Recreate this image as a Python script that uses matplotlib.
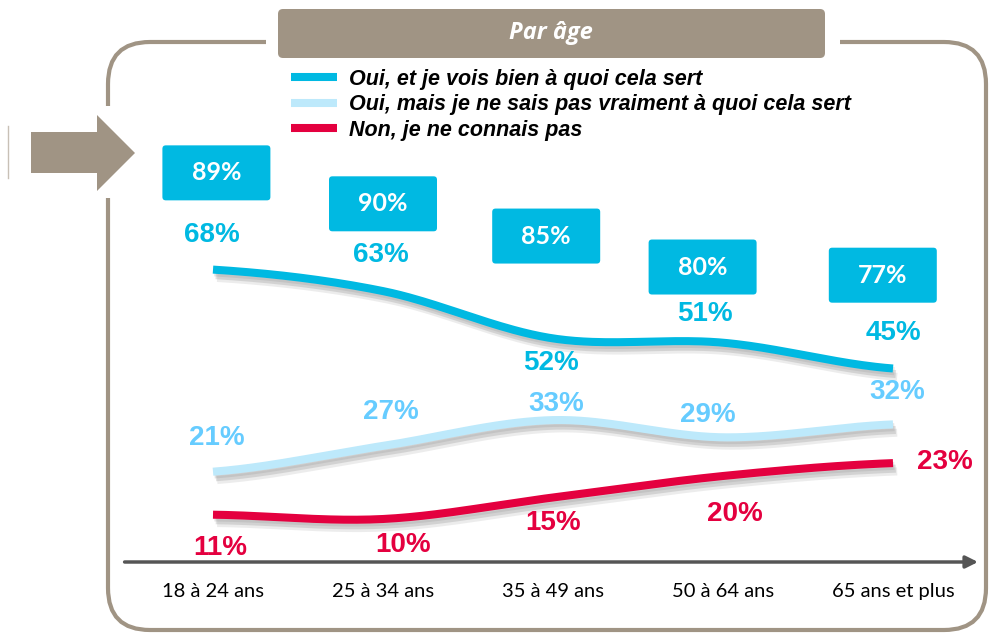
import numpy as np
import matplotlib
matplotlib.use("Agg")
import matplotlib.pyplot as plt
import matplotlib.patheffects as pe
from matplotlib.patches import FancyBboxPatch, Rectangle, Polygon
from matplotlib.lines import Line2D

# data
categories = ["18 à 24 ans", "25 à 34 ans", "35 à 49 ans", "50 à 64 ans", "65 ans et plus"]
oui_sait = [68, 63, 52, 51, 45]
oui_sait_pas = [21, 27, 33, 29, 32]
non = [11, 10, 15, 20, 23]
totals = [89, 90, 85, 80, 77]
series_names = ["Oui, et je vois bien à quoi cela sert",
                "Oui, mais je ne sais pas vraiment à quoi cela sert",
                "Non, je ne connais pas"]

DARK = "#00B9E2"
LIGHT = "#BDE9FB"
LIGHT_TXT = "#66CCFF"
RED = "#E4003F"
TAUPE = "#A09484"

# label offsets (pixels) from each point
off_dark = [(-1, 35), (-2, 36), (-2, -25), (-18, 29), (0, 35)]
off_light = [(4, 34), (8, 34), (3, 16), (-15, 22), (4, 32)]
off_red = [(7, -33), (20, -26), (0, -25), (12, -38), (52, 1)]
box_pos = [(0.02, 90.5), (1.0, 83.3), (1.96, 75.8), (2.88, 68.6), (3.94, 66.7)]


def smooth(ys, n=40):
    # catmull-rom, like excel "smoothed line"
    p = np.array(ys, dtype=float)
    xs_out, ys_out = [], []
    for i in range(len(p) - 1):
        p0 = p[i - 1] if i > 0 else p[i]
        p3 = p[i + 2] if i + 2 < len(p) else p[i + 1]
        m1 = (p[i + 1] - p0) / 2
        m2 = (p3 - p[i]) / 2
        t = np.linspace(0, 1, n)
        h00 = 2 * t**3 - 3 * t**2 + 1
        h10 = t**3 - 2 * t**2 + t
        h01 = -2 * t**3 + 3 * t**2
        h11 = t**3 - t**2
        xs_out.append(i + t)
        ys_out.append(h00 * p[i] + h10 * m1 + h01 * p[i + 1] + h11 * m2)
    return np.concatenate(xs_out), np.concatenate(ys_out)


fig = plt.figure(figsize=(9.9, 6.35), dpi=100)

# background layer in pixel units
bg = fig.add_axes([0, 0, 1, 1])
bg.set_xlim(0, 990)
bg.set_ylim(635, 0)
bg.axis("off")

bg.add_patch(FancyBboxPatch((108, 42), 878, 588, boxstyle="round,pad=0,rounding_size=42",
                            fc="none", ec=TAUPE, lw=3))
bg.add_patch(Rectangle((266, 30), 574, 25, fc="white", ec="none"))
bg.add_patch(Rectangle((98, 106), 20, 92, fc="white", ec="none"))
bg.add_patch(FancyBboxPatch((278, 9), 547, 49, boxstyle="round,pad=0,rounding_size=5",
                            fc=TAUPE, ec="none"))
bg.text(551, 33, "Par âge", color="white", fontsize=17, fontweight="bold", style="italic",
        family="Open Sans", ha="center", va="center")
bg.add_patch(Polygon([(31, 132), (97, 132), (97, 115), (135, 153), (97, 191), (97, 173), (31, 173)],
                     closed=True, fc=TAUPE, ec="none"))
bg.plot([8, 8], [126, 178], color="#C8C0B6", lw=1)

# data axes
ax = fig.add_axes([128 / 990, 73 / 635, 850 / 990, 430 / 635])
ax.patch.set_alpha(0)
ax.set_xlim(-0.5, 4.5)
ax.set_ylim(0, 100)
for s in ax.spines.values():
    s.set_visible(False)
ax.set_yticks([])
ax.set_xticks(range(len(categories)))
ax.set_xticklabels(categories, fontsize=14.5, family="Lato")
ax.tick_params(axis="x", length=0, pad=15)

shadow = [pe.SimpleLineShadow(offset=(3, -6), shadow_color="#999999", alpha=0.18),
          pe.SimpleLineShadow(offset=(2, -4), shadow_color="#888888", alpha=0.25),
          pe.SimpleLineShadow(offset=(1, -2), shadow_color="#888888", alpha=0.2),
          pe.Normal()]

ax.annotate("", xy=(1.0, 0), xytext=(-0.004, 0), xycoords="axes fraction",
            arrowprops=dict(arrowstyle="-|>", color="#555555", lw=2.5, mutation_scale=18,
                            shrinkA=0, shrinkB=0))
ax.plot([-0.5, 4.4], [-1.2, -1.2], color="#BBBBBB", lw=3, alpha=0.5, zorder=1)

for vals, col, txtcol, offs in [(oui_sait, DARK, DARK, off_dark),
                                (oui_sait_pas, LIGHT, LIGHT_TXT, off_light),
                                (non, RED, RED, off_red)]:
    xs, ys = smooth(vals)
    ax.plot(xs, ys, color=col, lw=5.8, solid_capstyle="butt", path_effects=shadow, zorder=3)
    for i, v in enumerate(vals):
        ax.annotate(f"{v}%", (i, v), xytext=offs[i], textcoords="offset pixels",
                    ha="center", va="center", color=txtcol, fontsize=20, fontweight="bold",
                    family="Liberation Sans", zorder=4)

bw, bh = 108 / 170, 55 / 4.3
for (bx, by), t in zip(box_pos, totals):
    ax.add_patch(FancyBboxPatch((bx - bw / 2, by - bh / 2), bw, bh,
                                boxstyle="round,pad=0,rounding_size=0.02",
                                mutation_aspect=170 / 4.3, fc=DARK, ec="none", zorder=4))
    ax.text(bx, by, f"{t}%", color="white", fontsize=18, fontweight="bold", family="Lato",
            ha="center", va="center", zorder=5)

handles = [Line2D([], [], color=c, lw=5.8, solid_capstyle="butt") for c in (DARK, LIGHT, RED)]
leg = ax.legend(handles, series_names, loc="upper left", bbox_to_anchor=(291, 69),
                bbox_transform=bg.transData, frameon=False, borderpad=0, borderaxespad=0,
                handlelength=2.15, handletextpad=0.55, labelspacing=0.2,
                prop=dict(family="Liberation Sans", weight="bold", style="italic", size=15.5))

fig.savefig("out.png", dpi=100)
